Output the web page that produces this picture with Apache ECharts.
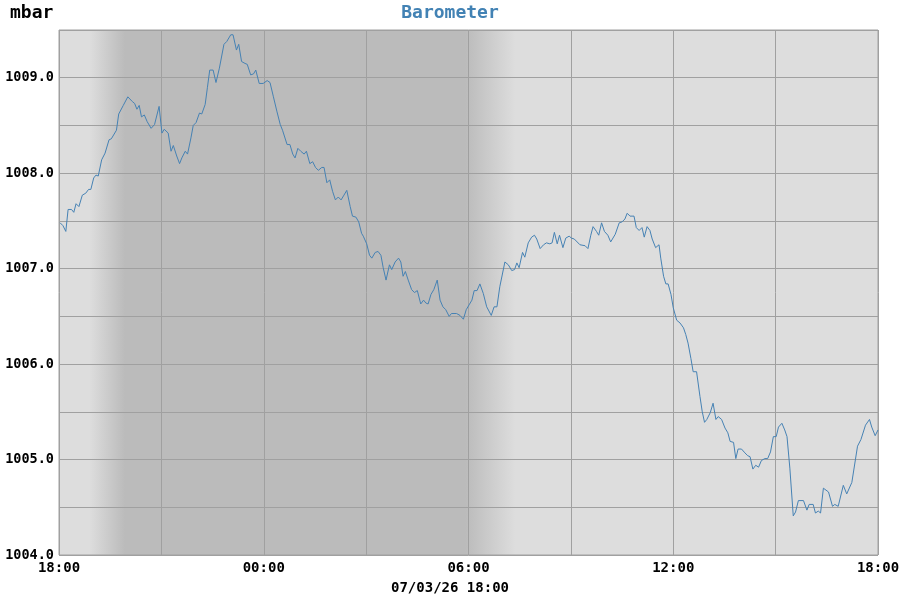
<!DOCTYPE html>
<html>
<head>
<meta charset="utf-8">
<title>Barometer</title>
<script src="https://cdn.jsdelivr.net/npm/echarts@6/dist/echarts.min.js"></script>
<style>
  html, body { margin: 0; padding: 0; background: #fff; }
  #chart { width: 900px; height: 600px; }
</style>
</head>
<body>
<div id="chart"></div>
<script>
// minutes since 18:00 on the previous day
const minutes = [
  2, 7, 12, 16, 22, 26, 30, 35, 41, 47, 52, 56, 61, 65, 69, 72, 75, 81, 88, 92,
  95, 101, 105, 113, 121, 129, 133, 137, 141, 145, 150, 155, 162, 168, 176, 181, 185, 192, 197, 201,
  207, 212, 216, 222, 226, 232, 236, 241, 247, 251, 257, 261, 265, 271, 276, 282, 290, 295, 302, 306,
  312, 316, 321, 327, 331, 337, 342, 346, 352, 359, 366, 371, 377, 383, 389, 393, 396, 401, 406, 411,
  415, 420, 425, 431, 435, 441, 446, 451, 456, 462, 466, 471, 476, 481, 486, 491, 496, 501, 506, 512,
  516, 522, 527, 532, 535, 541, 546, 550, 556, 561, 566, 570, 575, 581, 585, 591, 597, 601, 605, 609,
  614, 620, 625, 630, 636, 641, 645, 649, 654, 659, 665, 670, 675, 680, 686, 690, 699, 705, 711, 716,
  721, 726, 730, 735, 740, 746, 752, 760, 765, 770, 775, 784, 790, 796, 801, 805, 809, 815, 819, 825,
  831, 836, 840, 846, 852, 857, 863, 867, 871, 876, 880, 886, 891, 897, 901, 906, 916, 925, 930, 935,
  939, 945, 949, 954, 959, 965, 970, 978, 985, 990, 995, 999, 1004, 1011, 1015, 1020, 1025, 1029, 1034, 1039,
  1043, 1049, 1055, 1058, 1063, 1067, 1071, 1076, 1080, 1086, 1092, 1098, 1102, 1106, 1111, 1115, 1121, 1127, 1131, 1135,
  1139, 1145, 1150, 1155, 1159, 1165, 1171, 1176, 1180, 1186, 1190, 1194, 1200, 1206, 1211, 1215, 1220, 1225, 1230, 1235,
  1241, 1246, 1251, 1256, 1261, 1265, 1271, 1276, 1280, 1285, 1291, 1295, 1300, 1309, 1315, 1319, 1326, 1330, 1335, 1339,
  1344, 1353, 1356, 1360, 1364, 1370, 1379, 1385, 1394, 1404, 1410, 1418, 1425, 1429, 1435, 1440
];
const pressure = [
  1007.48, 1007.45, 1007.39, 1007.62, 1007.62, 1007.59, 1007.68, 1007.65, 1007.77, 1007.79, 1007.83, 1007.83, 1007.95, 1007.98, 1007.97, 1007.96, 1008.14, 1008.21, 1008.35, 1008.36,
  1008.34, 1008.45, 1008.62, 1008.71, 1008.80, 1008.75, 1008.73, 1008.67, 1008.71, 1008.59, 1008.61, 1008.54, 1008.47, 1008.51, 1008.70, 1008.42, 1008.46, 1008.42, 1008.23, 1008.29,
  1008.18, 1008.10, 1008.16, 1008.23, 1008.20, 1008.37, 1008.50, 1008.53, 1008.63, 1008.62, 1008.72, 1008.90, 1009.08, 1009.08, 1008.95, 1009.10, 1009.35, 1009.38, 1009.45, 1009.45,
  1009.29, 1009.35, 1009.17, 1009.15, 1009.14, 1009.03, 1009.04, 1009.08, 1008.94, 1008.94, 1008.97, 1008.95, 1008.80, 1008.65, 1008.51, 1008.45, 1008.43, 1008.30, 1008.30, 1008.20,
  1008.16, 1008.26, 1008.23, 1008.20, 1008.23, 1008.10, 1008.12, 1008.06, 1008.03, 1008.06, 1008.06, 1007.90, 1007.93, 1007.81, 1007.72, 1007.75, 1007.72, 1007.77, 1007.82, 1007.65,
  1007.55, 1007.54, 1007.49, 1007.37, 1007.34, 1007.26, 1007.14, 1007.11, 1007.17, 1007.18, 1007.14, 1007.01, 1006.88, 1007.04, 1006.99, 1007.07, 1007.11, 1007.07, 1006.92, 1006.97,
  1006.88, 1006.78, 1006.75, 1006.77, 1006.63, 1006.67, 1006.64, 1006.63, 1006.73, 1006.78, 1006.88, 1006.67, 1006.60, 1006.57, 1006.50, 1006.53, 1006.53, 1006.51, 1006.47, 1006.57,
  1006.62, 1006.67, 1006.77, 1006.77, 1006.84, 1006.74, 1006.60, 1006.51, 1006.60, 1006.60, 1006.81, 1007.07, 1007.04, 1006.98, 1006.99, 1007.06, 1007.01, 1007.17, 1007.12, 1007.27,
  1007.33, 1007.35, 1007.31, 1007.21, 1007.25, 1007.27, 1007.26, 1007.27, 1007.38, 1007.26, 1007.35, 1007.22, 1007.32, 1007.34, 1007.32, 1007.31, 1007.25, 1007.24, 1007.21, 1007.35,
  1007.44, 1007.39, 1007.35, 1007.48, 1007.39, 1007.35, 1007.28, 1007.36, 1007.48, 1007.49, 1007.52, 1007.58, 1007.55, 1007.55, 1007.43, 1007.40, 1007.43, 1007.33, 1007.44, 1007.40,
  1007.31, 1007.22, 1007.25, 1007.11, 1006.92, 1006.84, 1006.84, 1006.73, 1006.59, 1006.46, 1006.43, 1006.38, 1006.31, 1006.22, 1006.06, 1005.92, 1005.92, 1005.66, 1005.50, 1005.39,
  1005.42, 1005.49, 1005.59, 1005.42, 1005.45, 1005.42, 1005.33, 1005.28, 1005.19, 1005.18, 1005.01, 1005.11, 1005.11, 1005.07, 1005.04, 1005.03, 1004.90, 1004.94, 1004.92, 1004.99,
  1005.01, 1005.01, 1005.08, 1005.24, 1005.24, 1005.34, 1005.38, 1005.31, 1005.24, 1004.91, 1004.41, 1004.45, 1004.57, 1004.57, 1004.47, 1004.53, 1004.53, 1004.44, 1004.46, 1004.44,
  1004.70, 1004.66, 1004.64, 1004.51, 1004.53, 1004.51, 1004.73, 1004.64, 1004.76, 1005.14, 1005.21, 1005.36, 1005.42, 1005.34, 1005.25, 1005.31
];
const xTickLabels = ['18:00', '00:00', '06:00', '12:00', '18:00'];
const xAxisTitle = '07/03/26 18:00';

const chart = echarts.init(document.getElementById('chart'));
const mono = 'DejaVu Sans Mono';

const data = minutes.map((m, i) => [m, pressure[i]]);

const option = {
  animation: false,
  backgroundColor: '#ffffff',
  title: [
    {
      text: 'Barometer',
      left: 'center',
      top: 4,
      padding: 0,
      textStyle: { fontFamily: mono, fontWeight: 'bold', fontSize: 18, color: '#4282b4' }
    },
    {
      text: 'mbar',
      left: 10,
      top: 4,
      padding: 0,
      textStyle: { fontFamily: mono, fontWeight: 'bold', fontSize: 18, color: '#000' }
    },
    {
      text: xAxisTitle,
      left: 'center',
      top: 581,
      padding: 0,
      textStyle: { fontFamily: mono, fontWeight: 'bold', fontSize: 14, color: '#000' }
    }
  ],
  grid: {
    left: 59,
    right: 22,
    top: 30,
    bottom: 45,
    outerBoundsMode: 'none',
    containLabel: false,
    show: true,
    borderColor: '#a0a0a0',
    borderWidth: 1,
    backgroundColor: {
      type: 'linear', x: 0, y: 0, x2: 1, y2: 0,
      colorStops: [
        { offset: 0, color: '#dddddd' },
        { offset: 0.038, color: '#dddddd' },
        { offset: 0.081, color: '#bbbbbb' },
        { offset: 0.496, color: '#bbbbbb' },
        { offset: 0.557, color: '#dddddd' },
        { offset: 1, color: '#dddddd' }
      ]
    }
  },
  xAxis: {
    type: 'value',
    min: 0,
    max: 1440,
    interval: 180,
    axisLine: { show: false },
    axisTick: { show: false },
    axisLabel: {
      margin: 6,
      fontFamily: mono,
      fontWeight: 'bold',
      fontSize: 14,
      color: '#000',
      formatter: v => (v % 360 === 0 ? xTickLabels[v / 360] : '')
    },
    splitLine: { show: true, lineStyle: { color: '#a0a0a0', width: 1 } }
  },
  yAxis: {
    type: 'value',
    min: 1004,
    max: 1009.5,
    interval: 0.5,
    axisLine: { show: false },
    axisTick: { show: false },
    axisLabel: {
      margin: 5,
      fontFamily: mono,
      fontWeight: 'bold',
      fontSize: 13.5,
      color: '#000',
      formatter: v => (Math.abs(v - Math.round(v)) < 1e-6 ? v.toFixed(1) : '')
    },
    splitLine: { show: true, lineStyle: { color: '#a0a0a0', width: 1 } }
  },
  series: [
    {
      name: 'Barometer',
      type: 'line',
      data: data,
      showSymbol: false,
      lineStyle: { color: '#4682b4', width: 1 },
      itemStyle: { color: '#4682b4' }
    }
  ]
};

chart.setOption(option);
</script>
</body>
</html>
